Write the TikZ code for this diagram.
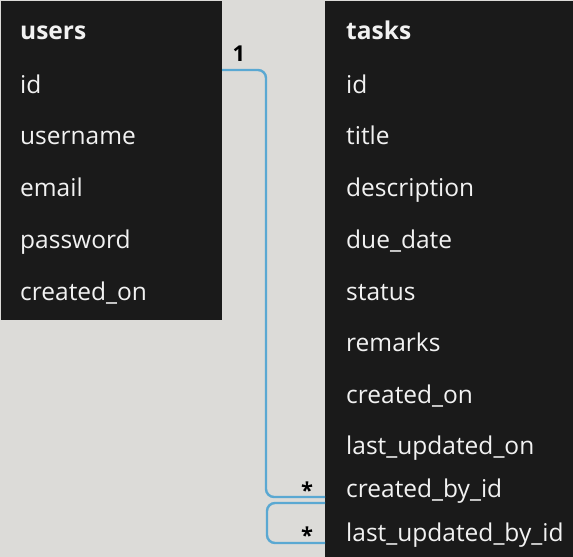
\documentclass[tikz,border=0pt]{standalone}
\usepackage{fontspec}
\setmainfont{Open Sans}
\definecolor{bgc}{HTML}{DCDBD8}
\definecolor{boxc}{HTML}{1A1A1A}
\definecolor{txtc}{HTML}{F2F2F2}
\definecolor{linec}{HTML}{5AA8D2}
\begin{document}
\begin{tikzpicture}[x=1bp,y=-1bp,
  tbl/.style={draw=none,fill=boxc,inner sep=0pt,outer sep=0pt},
  fld/.style={anchor=base west,inner sep=0pt,text=txtc,font=\fontsize{24.6}{27}\selectfont},
  hdr/.style={anchor=base west,inner sep=0pt,text=txtc,font=\fontsize{24.6}{27}\selectfont\bfseries},
  card/.style={anchor=base,inner sep=0pt,text=black,font=\fontsize{22}{24}\selectfont\bfseries},
  rel/.style={draw=linec,line width=2.4bp,rounded corners=8bp}]
\useasboundingbox[fill=bgc] (0,0) rectangle (573,557);
% tables
\node[tbl,minimum width=221bp,minimum height=319bp,anchor=north west] (users) at (1,1) {};
\node[tbl,minimum width=248bp,minimum height=556bp,anchor=north west] (tasks) at (325,1) {};
% users fields
\node[hdr] (uh) at (20,40) {users};
\node[fld] (uid) at (20,94) {id};
\node[fld] (uname) at (20,145) {username};
\node[fld] (uemail) at (20,197) {email};
\node[fld] (upass) at (20,248) {password};
\node[fld] (ucr) at (20,300) {created\_on};
% tasks fields
\node[hdr] (th) at (346,40) {tasks};
\node[fld] (tid) at (346,94) {id};
\node[fld] (ttitle) at (346,145) {title};
\node[fld] (tdesc) at (346,197) {description};
\node[fld] (tdue) at (346,248) {due\_date};
\node[fld] (tstat) at (346,300) {status};
\node[fld] (trem) at (346,351) {remarks};
\node[fld] (tcr) at (346,403) {created\_on};
\node[fld] (tlu) at (346,454) {last\_updated\_on};
\node[fld] (tcb) at (346,497) {created\_by\_id};
\node[fld] (tlub) at (346,541) {last\_updated\_by\_id};
% connector anchors
\coordinate (a1) at (users.east |- 0,70);
\coordinate (b1) at (tasks.west |- 0,497);
\coordinate (c1) at (tasks.west |- 0,503);
\coordinate (b2) at (tasks.west |- 0,543);
\draw[rel] (a1) -- (266,70) -- (266,497) -- (b1);
\draw[rel] (c1) -- (267,503) -- (267,543) -- (b2);
% cardinalities
\node[card] (one) at (239,62) {1};
\node[card] (m1) at (307,498) {*};
\node[card] (m2) at (307,543) {*};
\end{tikzpicture}
\end{document}
